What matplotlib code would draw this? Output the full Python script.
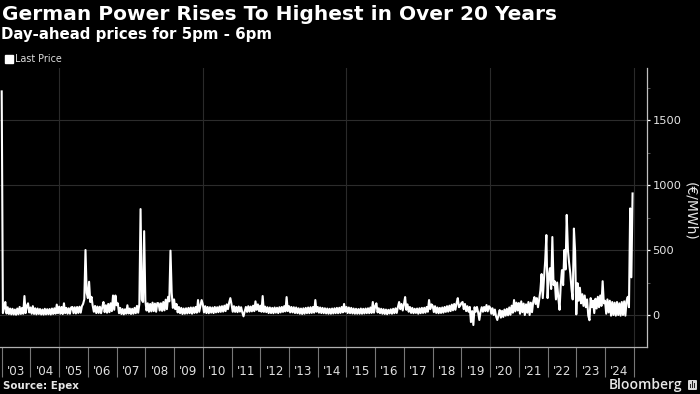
import matplotlib
matplotlib.use("Agg")
import matplotlib.pyplot as plt
from matplotlib.lines import Line2D
from matplotlib.patches import Rectangle, FancyBboxPatch

TITLE = "German Power Rises To Highest in Over 20 Years"
SUBTITLE = "Day-ahead prices for 5pm - 6pm"
SOURCE = "Source: Epex"
SERIES = "Last Price"
UNIT = "(€/MWh)"

years = list(range(2003, 2025))
year_labels = [f"'{y % 100:02d}" for y in years]
y_ticks = [0, 500, 1000, 1500]
y_minor = [250, 750, 1250, 1750]
grid_years = [2005, 2010, 2015, 2020, 2025]

# half-monthly readings (€/MWh), 24 per year
y2003 = [1720,15,55,100,12,60,8,50,5,48,4,42,2,50,6,62,8,55,10,146,15,70,90,20]
y2004 = [58,10,68,8,52,5,50,8,46,4,42,3,48,5,45,6,46,4,50,8,52,10,80,14]
y2005 = [65,10,62,8,90,14,55,10,52,10,58,62,14,60,12,62,16,64,18,68,85,120,500,170]
y2006 = [130,256,100,140,72,25,70,15,65,16,64,14,60,100,22,75,18,85,22,90,30,150,40,150]
y2007 = [75,90,14,55,8,46,5,44,10,75,12,50,8,48,10,55,14,70,18,85,815,120,100,645]
y2008 = [110,35,90,25,85,28,95,30,88,25,92,90,35,90,32,100,36,118,45,140,105,495,170,55]
y2009 = [120,45,85,20,62,14,55,8,50,10,52,12,55,14,58,10,58,16,62,18,115,25,72,115]
y2010 = [82,20,68,15,62,14,60,18,58,15,62,20,60,22,66,24,68,26,72,30,82,45,95,130]
y2011 = [82,25,68,24,62,22,65,26,60,20,-10,28,62,24,68,26,65,28,72,30,105,40,82,30]
y2012 = [72,25,146,24,65,22,60,15,58,15,55,14,58,18,56,15,60,20,62,24,68,28,138,30]
y2013 = [68,20,62,20,60,15,58,14,52,10,50,8,52,10,55,14,58,14,60,16,62,18,115,25]
y2014 = [62,18,58,15,55,14,52,12,50,10,48,10,50,12,52,14,55,14,56,16,62,20,85,25]
y2015 = [62,15,58,14,55,12,50,10,48,10,46,10,50,10,48,12,50,14,52,14,58,16,100,18]
y2016 = [68,90,20,52,14,48,10,45,8,42,6,40,12,44,10,48,14,52,16,62,100,45,85,35]
y2017 = [82,138,40,82,25,62,16,55,14,48,16,50,10,52,14,55,16,56,18,62,25,115,45,82]
y2018 = [72,22,68,16,58,14,55,16,58,18,62,24,68,26,72,30,80,36,85,40,92,130,60,72]
y2019 = [92,100,45,85,30,68,25,62,-54,30,-77,60,25,62,20,-38,24,60,25,62,30,77,28,68]
y2020 = [58,10,52,0,42,-12,-38,-2,38,-20,32,-15,42,-5,48,-2,58,2,72,18,115,28,95,35]
y2021 = [92,10,105,22,88,0,82,18,100,0,95,22,100,138,85,130,60,120,190,315,130,280,415,615]
y2022 = [130,300,360,200,600,230,260,120,250,130,40,230,345,230,500,350,770,500,400,320,200,120,665,490]
y2023 = [5,245,110,210,90,160,70,150,60,120,-5,-40,130,60,110,15,125,50,140,60,150,70,260,90]
y2024 = [110,10,120,20,110,-5,100,0,95,-5,100,0,90,-5,100,0,105,-5,110,140,60,820,290,935]
all_years = [y2003,y2004,y2005,y2006,y2007,y2008,y2009,y2010,y2011,y2012,y2013,
             y2014,y2015,y2016,y2017,y2018,y2019,y2020,y2021,y2022,y2023,y2024]

t, v = [], []
for yr, vals in zip(years, all_years):
    for i, val in enumerate(vals):
        t.append(yr + i / 24)
        v.append(val)

plt.rcParams["font.family"] = "DejaVu Sans"
W, H = 700, 394
fig = plt.figure(figsize=(W / 100, H / 100), dpi=100, facecolor="black")
ax = fig.add_axes([0, (H - 347) / H, 646.7 / W, (347 - 68) / H], facecolor="black")

ax.set_xlim(2003 - 1.7 / 28.73, 2003 + (646.7 - 1.7) / 28.73)
ax.set_ylim(-246, 1900)

for g in grid_years:
    ax.axvline(g, color="#2a2a2a", lw=0.8, zorder=1)
ax.set_yticks(y_ticks)
ax.set_yticks(y_minor, minor=True)
ax.yaxis.tick_right()
ax.yaxis.grid(True, which="major", color="#2c2c2c", lw=0.8, zorder=1)
ax.set_axisbelow(True)
ax.tick_params(axis="y", which="major", length=2.5, width=0.9, color="white",
               labelcolor="#e6e6e6", labelsize=8.2, pad=1.5)
ax.tick_params(axis="y", which="minor", length=2.5, width=0.7, color="#555555")

ax.set_xticks(years + [2025])
ax.set_xticklabels([""] * (len(years) + 1))
ax.set_xticks([y + 0.5 for y in years], minor=True)
ax.set_xticklabels(year_labels, minor=True)
ax.tick_params(axis="x", which="major", length=21.5, width=0.8, color="#777777")
ax.tick_params(axis="x", which="minor", length=0, labelcolor="#e0e0e0", labelsize=8.6, pad=13.2)

for s in ("top", "left"):
    ax.spines[s].set_visible(False)
ax.spines["right"].set_color("#c0c0c0")
ax.spines["right"].set_linewidth(0.9)
ax.spines["bottom"].set_color("#b0b0b0")
ax.spines["bottom"].set_linewidth(0.9)

ax.plot(t, v, color="white", lw=1.5, solid_joinstyle="round", zorder=3, clip_on=True)

handle = Line2D([], [], marker="s", ms=5.3, color="white", ls="none")
fig.legend([handle], [SERIES], loc="center left", bbox_to_anchor=(-0.5 / W, 1 - 59 / H),
           frameon=False, fontsize=6.9, labelcolor="#dddddd", handletextpad=-0.35,
           borderpad=0, borderaxespad=0)

fig.text(2 / W, 1 - 14 / H, TITLE, color="white", fontsize=14.5, fontweight="bold", va="center", ha="left")
fig.text(1 / W, 1 - 35 / H, SUBTITLE, color="white", fontsize=10.8, fontweight="bold", va="center", ha="left")
fig.text(3 / W, 1 - 386 / H, SOURCE, color="#e6e6e6", fontsize=7.4, fontweight="bold", va="center", ha="left")
fig.text(690 / W, 1 - 211 / H, UNIT, color="#e6e6e6", fontsize=10, rotation=270, va="center", ha="center")
fig.text(682 / W, 1 - 384.5 / H, "Bloomberg", color="#e8e8e8", fontsize=10, fontweight="semibold",
         family="Open Sans", va="center", ha="right")

# small logo box
fig.patches.append(FancyBboxPatch((688 / W, 1 - 390 / H), 9 / W, 10 / H, boxstyle="round,pad=0,rounding_size=0.002",
                                  transform=fig.transFigure, fc="#d8d8d8", ec="none"))
for bx, bh in zip([690, 692, 694], [4, 7, 5]):
    fig.patches.append(Rectangle((bx / W, 1 - 388 / H), 1.2 / W, bh / H, transform=fig.transFigure, fc="#222222", ec="none"))

fig.savefig("out.png", dpi=100, facecolor="black")
